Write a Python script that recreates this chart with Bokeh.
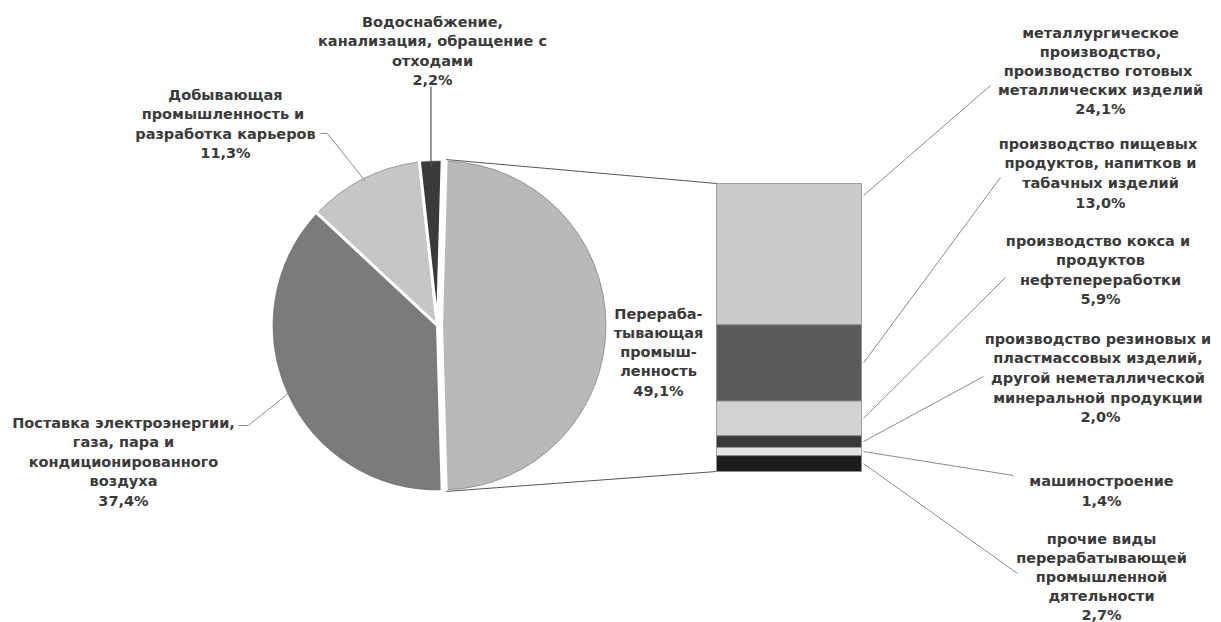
import math
from bokeh.plotting import figure
from bokeh.models import Range1d
from bokeh.core.properties import value
from bokeh.embed import file_html
from bokeh.resources import INLINE

# ---------------- data ----------------
pie_names = ["Перераба-\nтывающая\nпромыш-\nленность",
             "Поставка электроэнергии,\nгаза, пара и\nкондиционированного\nвоздуха",
             "Добывающая\nпромышленность  и\nразработка карьеров",
             "Водоснабжение,\nканализация, обращение с\nотходами"]
pie_values = [49.1, 37.4, 11.3, 2.2]
pie_colors = ["#b9b9b9", "#7b7b7b", "#c6c6c6", "#3a3a3a"]

bar_names = ["металлургическое\nпроизводство,\nпроизводство  готовых\nметаллических изделий",
             "производство  пищевых\nпродуктов, напитков и\nтабачных изделий",
             "производство  кокса и\nпродуктов\nнефтепереработки",
             "производство  резиновых и\nпластмассовых  изделий,\nдругой  неметаллической\nминеральной  продукции",
             "машиностроение",
             "прочие виды\nперерабатывающей\nпромышленной\nдятельности"]
bar_values = [24.1, 13.0, 5.9, 2.0, 1.4, 2.7]
bar_colors = ["#cbcbcb", "#5a5a5a", "#d2d2d2", "#383838", "#e4e4e4", "#1c1c1c"]

def pct(v):
    return ("%.1f" % v).replace(".", ",") + "%"

# ---------------- layout (screen px -> data) ----------------
W, H = 1221, 622
def X(sx): return sx
def Y(sy): return H - sy

p = figure(width=W, height=H, x_range=Range1d(0, W), y_range=Range1d(0, H),
           output_backend="svg", toolbar_location=None, min_border=0)
p.axis.visible = False
p.grid.visible = False
p.outline_line_color = None
p.background_fill_color = "white"

FONT = value("DejaVu Sans")
FS = "14.5px"
TCOL = "#3a3a3a"
LEAD = "#8a8a8a"

def draw_label(cx, sy0, text, step=19.5):
    lines = text.split("\n")
    xs = [X(cx)] * len(lines)
    ys = [Y(sy0 + i * step) for i in range(len(lines))]
    p.text(xs, ys, text=lines, text_align="center", text_baseline="middle",
           text_font=FONT, text_font_size=FS, text_font_style="bold", text_color=TCOL)

# ---------------- pie ----------------
cx, cy, R = X(437), Y(325), 166
explode = 4
half = pie_values[0] * 3.6 / 2
angles = [(-half, half)]
prev = -half
for v in pie_values[1:]:
    lo = prev - v * 3.6
    angles.append((lo, prev))
    prev = lo

centers = []
for i, (a0, a1) in enumerate(angles):
    ox = explode if i == 0 else 0
    centers.append((cx + ox, cy))
    p.wedge(x=cx + ox, y=cy, radius=R, start_angle=math.radians(a0), end_angle=math.radians(a1),
            direction="anticlock", fill_color=pie_colors[i], line_color="white", line_width=3)
    # darker rim on the outer arc
    p.arc(x=cx + ox, y=cy, radius=R - 1.5, start_angle=math.radians(a0 + 0.6),
          end_angle=math.radians(a1 - 0.6), direction="anticlock", line_color="#6a6a6a",
          line_width=1, line_alpha=0.6)

# ---------------- bar ----------------
bl, br, btop, bbot = X(716), X(861), Y(183), Y(471)
k = (btop - bbot) / sum(bar_values)
tops, bots = [], []
acc = 0.0
for v in bar_values:
    tops.append(btop - acc * k)
    acc += v
    bots.append(btop - acc * k)
p.quad(left=[bl] * len(bar_values), right=[br] * len(bar_values), top=tops, bottom=bots,
       fill_color=bar_colors, line_color="#8c8c8c", line_width=0.8)

# connector lines pie -> bar
(c0x, c0y) = centers[0]
ta, ba = math.radians(half), math.radians(-half)
p.line([c0x + R * math.cos(ta), bl], [c0y + R * math.sin(ta), btop], line_color="#555555", line_width=1)
p.line([c0x + R * math.cos(ba), bl], [c0y + R * math.sin(ba), bbot], line_color="#555555", line_width=1)

# ---------------- pie labels ----------------
draw_label(658, 313, pie_names[0] + "\n" + pct(pie_values[0]), step=19.3)

pie_lab = {1: (123, 422), 2: (225, 94), 3: (432, 21)}
for i in (1, 2, 3):
    lx, ly = pie_lab[i]
    draw_label(lx, ly, pie_names[i] + "\n" + pct(pie_values[i]))

def mid_pt(i, rr=R):
    a0, a1 = angles[i]
    m = math.radians((a0 + a1) / 2)
    return centers[i][0] + rr * math.cos(m), centers[i][1] + rr * math.sin(m)

# leaders for pie labels
ex, ey = mid_pt(1, R - 4)
p.line([X(238), X(248), ex], [Y(425), Y(425), ey], line_color=LEAD, line_width=1)
ex, ey = mid_pt(2, R - 4)
p.line([X(320), X(327), ex], [Y(133), Y(133), ey], line_color=LEAD, line_width=1)
ex, ey = mid_pt(3, R - 6)
p.line([ex, ex], [Y(86), ey], line_color="#555555", line_width=1.2)

# ---------------- bar labels ----------------
bar_lab = [(1100, 32, 19.2), (1100, 143, 19.7), (1100, 240, 19.5),
           (1100, 338, 19.7), (1101, 480, 20), (1101, 538, 19.2)]
bar_lead_end = [(990, 85), (1000, 177), (1005, 277), (983, 376), (1013, 475), (1017, 573)]
for j in range(len(bar_values)):
    lx, ly, st = bar_lab[j]
    draw_label(lx, ly, bar_names[j] + "\n" + pct(bar_values[j]), step=st)
    ymid = (tops[j] + bots[j]) / 2
    if j == 0:
        ymid = Y(195)
    ex, ey = bar_lead_end[j]
    p.line([br + 2, X(ex)], [ymid, Y(ey)], line_color=LEAD, line_width=1)

open("out.html", "w").write(file_html(p, INLINE))
